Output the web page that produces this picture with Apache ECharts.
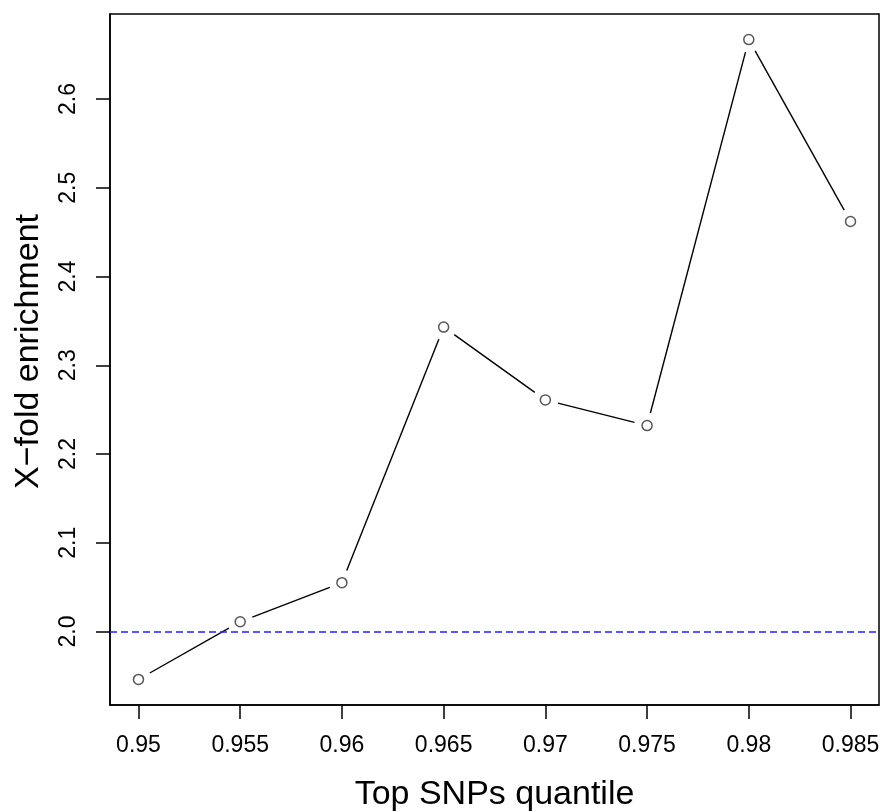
<!DOCTYPE html>
<html>
<head>
<meta charset="utf-8">
<script src="https://cdn.jsdelivr.net/npm/echarts@6/dist/echarts.min.js"></script>
<style>
  html, body { margin: 0; padding: 0; background: #fff; }
  #plot { width: 882px; height: 812px; }
</style>
</head>
<body>
<div id="plot"></div>
<script>
// values
var quantiles = [0.95, 0.955, 0.96, 0.965, 0.97, 0.975, 0.98, 0.985];
var enrichment = [1.946, 2.011, 2.055, 2.343, 2.261, 2.232, 2.667, 2.462];
var xTicks = [0.95, 0.955, 0.96, 0.965, 0.97, 0.975, 0.98, 0.985];
var xTickLabels = ['0.95', '0.955', '0.96', '0.965', '0.97', '0.975', '0.98', '0.985'];
var yTicks = [2.0, 2.1, 2.2, 2.3, 2.4, 2.5, 2.6];
var yTickLabels = ['2.0', '2.1', '2.2', '2.3', '2.4', '2.5', '2.6'];
var refLine = 2.0;

var points = [];
for (var i = 0; i < quantiles.length; i++) {
	points.push([quantiles[i], enrichment[i]]);
}

// R pads the axis range by 4% on each side
var xPad = (quantiles[quantiles.length - 1] - quantiles[0]) * 0.04;
var yMin = Math.min.apply(null, enrichment), yMax = Math.max.apply(null, enrichment);
var yPad = (yMax - yMin) * 0.04;

function pickLabel(ticks, labels) {
	return function(v) {
		for (var k = 0; k < ticks.length; k++) {
			if (Math.abs(ticks[k] - v) < 1e-9) return labels[k];
		}
		return '';
	};
}

// type = "b": segments stop short of the points
var gap = 13;
function renderSegment(params, api) {
	var i = params.dataIndex;
	if (i >= points.length - 1) return null;
	var a = api.coord(points[i]);
	var b = api.coord(points[i + 1]);
	var dx = b[0] - a[0], dy = b[1] - a[1];
	var len = Math.sqrt(dx * dx + dy * dy);
	if (len <= 2 * gap) return null;
	var ux = dx / len, uy = dy / len;
	return {
		type: 'line',
		shape: { x1: a[0] + ux * gap, y1: a[1] + uy * gap, x2: b[0] - ux * gap, y2: b[1] - uy * gap },
		style: { stroke: '#000', lineWidth: 1.4 }
	};
}

var font = 'Liberation Sans, Arial, sans-serif';
var myChart = echarts.init(document.getElementById('plot'));
var option = {
	animation: false,
	backgroundColor: '#fff',
	grid: {
		left: 110, top: 14, right: 3, bottom: 107,
		outerBoundsMode: 'none',
		containLabel: false,
		show: true, borderColor: '#000', borderWidth: 1.5
	},
	xAxis: {
		type: 'value',
		min: quantiles[0] - xPad,
		max: quantiles[quantiles.length - 1] + xPad,
		name: 'Top SNPs quantile',
		nameLocation: 'middle',
		nameGap: 73,
		nameTextStyle: { fontFamily: font, fontSize: 34, color: '#000' },
		axisLine: { show: true, lineStyle: { color: '#000', width: 1.5 } },
		axisTick: { show: true, inside: false, length: 14, customValues: xTicks,
			lineStyle: { color: '#000', width: 1.5 } },
		axisLabel: { customValues: xTicks, formatter: pickLabel(xTicks, xTickLabels),
			margin: 29, fontFamily: font, fontSize: 23, color: '#000' },
		splitLine: { show: false }
	},
	yAxis: {
		type: 'value',
		min: yMin - yPad,
		max: yMax + yPad,
		name: 'X\u2212fold enrichment',
		nameLocation: 'middle',
		nameGap: 64,
		nameTextStyle: { fontFamily: font, fontSize: 34, color: '#000', padding: [0, 0, 0, 16] },
		axisLine: { show: true, lineStyle: { color: '#000', width: 1.5 } },
		axisTick: { show: true, inside: false, length: 14, customValues: yTicks,
			lineStyle: { color: '#000', width: 1.5 } },
		axisLabel: { customValues: yTicks, formatter: pickLabel(yTicks, yTickLabels),
			rotate: 90, margin: 30, fontFamily: font, fontSize: 23, color: '#000' },
		splitLine: { show: false }
	},
	series: [
		{
			type: 'custom',
			data: points,
			renderItem: renderSegment,
			silent: true,
			z: 2
		},
		{
			type: 'scatter',
			data: points,
			symbol: 'circle',
			symbolSize: 10,
			z: 4,
			itemStyle: { color: '#fff', borderColor: '#2e2e2e', borderWidth: 1.5 }
		},
		{
			// abline(h = 2, lty = 2, col = "blue")
			type: 'line',
			data: [],
			z: 5,
			markLine: {
				silent: true,
				symbol: 'none',
				label: { show: false },
				lineStyle: { color: '#2020ff', type: [7, 4], width: 1.5 },
				data: [{ yAxis: refLine }]
			}
		}
	]
};
myChart.setOption(option);
</script>
</body>
</html>
